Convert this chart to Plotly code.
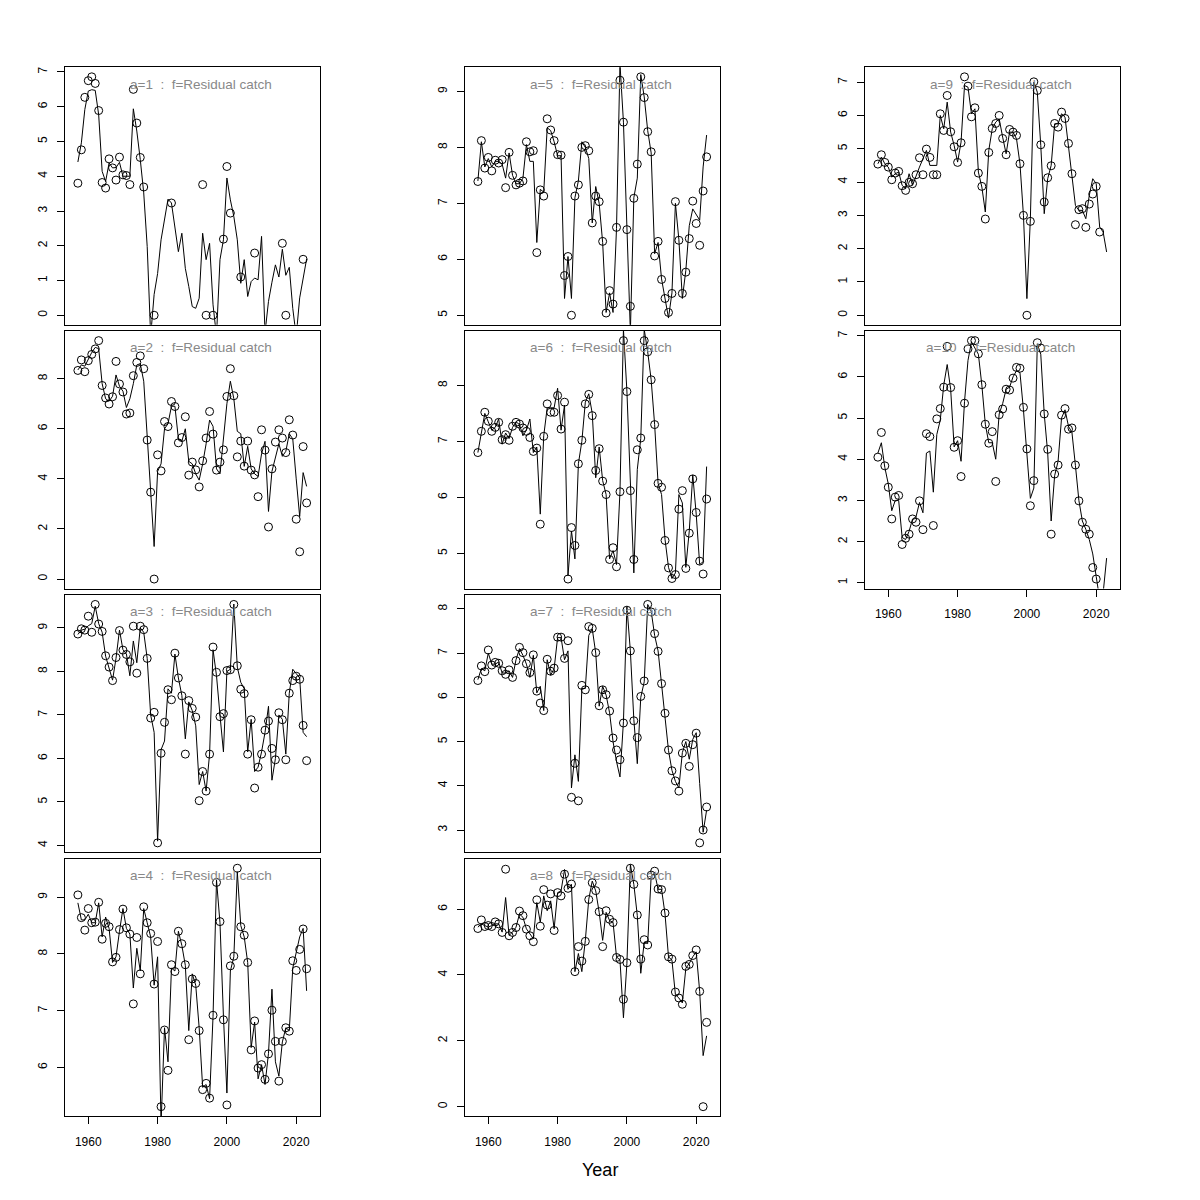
import plotly.graph_objects as go

years = list(range(1957, 2024))
N = None

obs_a1 = [3.80, 4.76, 6.27, 6.75, 6.86, 6.67, 5.89, 3.82, 3.66, 4.50,
          4.24, 3.89, 4.55, 4.04, 4.02, 3.76, 6.50, 5.53, 4.54, 3.69,
          N, N, 0.0, N, N, N, N, 3.23, N, N,
          N, N, N, N, N, N, 3.76, 0.0, N, 0.0,
          N, N, 2.19, 4.28, 2.94, N, N, 1.10, N, N,
          N, 1.79, N, N, N, N, N, N, N, 2.07,
          0.0, N, N, N, N, 1.61, N]
fit_a1 = [4.41, 4.96, 5.92, 6.45, 6.49, 6.47, 5.77, 4.14, 3.85, 4.38,
          4.24, 4.25, 4.40, 4.00, 4.00, 4.00, 5.94, 5.30, 4.48, 3.52,
          1.98, -0.60, 0.60, 1.20, 2.17, 2.75, 3.34, 3.23, 2.55, 1.83,
          2.36, 1.35, 0.83, 0.25, 0.20, 0.49, 2.36, 1.60, 2.07, 0.30,
          -0.60, 1.60, 2.17, 3.95, 3.32, 2.84, 2.17, 0.92, 1.60, 0.54,
          0.97, 1.07, 1.02, 2.27, -0.50, 0.40, 0.95, 1.45, 1.10, 1.90,
          1.15, 1.38, 0.20, -0.60, 0.50, 1.10, 1.62]

obs_a2 = [8.33, 8.75, 8.28, 8.72, 8.97, 9.19, 9.52, 7.73, 7.23, 6.99,
          7.28, 8.69, 7.79, 7.47, 6.59, 6.63, 8.12, 8.65, 8.91, 8.40,
          5.55, 3.47, 0.00, 4.96, 4.32, 6.29, 6.09, 7.09, 6.89, 5.44,
          5.65, 6.48, 4.15, 4.67, 4.36, 3.68, 4.72, 5.63, 6.69, 5.79,
          4.35, 4.67, 5.16, 7.29, 8.40, 7.32, 4.88, 5.51, 4.51, 5.51,
          4.35, 4.16, 3.29, 5.96, 5.15, 2.08, 4.40, 5.47, 5.96, 5.63,
          5.05, 6.36, 5.75, 2.39, 1.09, 5.29, 3.04]
fit_a2 = [8.35, 8.55, 8.50, 8.80, 9.05, 9.25, 9.20, 7.80, 7.20, 7.10,
          7.30, 8.15, 7.70, 7.50, 6.85, 7.20, 7.80, 8.55, 8.60, 7.90,
          5.60, 3.50, 1.30, 4.30, 4.60, 6.00, 6.20, 6.90, 6.90, 5.60,
          5.50, 6.00, 4.70, 4.60, 4.20, 3.95, 4.60, 5.40, 6.35, 6.10,
          4.40, 4.20, 5.70, 7.00, 7.90, 7.20, 5.90, 5.80, 4.50, 5.30,
          4.40, 4.20, 4.10, 5.00, 5.50, 2.70, 4.30, 4.90, 5.40, 4.90,
          5.10, 5.80, 5.60, 4.00, 2.50, 4.25, 3.70]

obs_a3 = [8.86, 8.98, 8.95, 9.27, 8.90, 9.54, 9.09, 8.92, 8.36, 8.10,
          7.79, 8.32, 8.94, 8.49, 8.39, 8.22, 9.04, 7.96, 9.04, 8.96,
          8.30, 6.93, 7.06, 4.06, 6.12, 6.83, 7.58, 7.35, 8.42, 7.85,
          7.44, 6.10, 7.33, 7.15, 6.95, 5.03, 5.70, 5.25, 6.10, 8.56,
          7.98, 6.96, 7.03, 8.02, 8.04, 9.54, 8.13, 7.59, 7.49, 6.10,
          6.89, 5.32, 5.80, 6.10, 6.65, 6.86, 6.23, 5.97, 7.05, 6.89,
          5.97, 7.50, 7.79, 7.89, 7.82, 6.76, 5.95]
fit_a3 = [8.85, 8.95, 8.97, 9.05, 9.10, 9.50, 9.10, 8.90, 8.35, 8.10,
          7.80, 8.30, 8.95, 8.50, 8.40, 7.90, 8.70, 8.20, 9.00, 8.90,
          8.30, 7.00, 6.60, 4.10, 6.20, 6.40, 7.60, 7.50, 8.40, 7.85,
          7.45, 6.45, 7.30, 7.10, 6.75, 5.40, 5.70, 5.25, 6.10, 8.50,
          7.90, 7.00, 6.15, 8.00, 8.05, 9.55, 8.10, 7.75, 7.60, 6.15,
          6.90, 5.70, 5.80, 6.15, 6.60, 7.20, 5.50, 6.00, 7.00, 6.90,
          6.10, 7.50, 8.05, 7.95, 7.85, 6.60, 6.50]

obs_a4 = [9.04, 8.64, 8.42, 8.80, 8.55, 8.56, 8.91, 8.26, 8.54, 8.48,
          7.86, 7.94, 8.43, 8.79, 8.46, 8.35, 7.12, 8.29, 7.65, 8.83,
          8.55, 8.36, 7.47, 8.22, 5.31, 6.66, 5.95, 7.81, 7.69, 8.40,
          8.18, 7.81, 6.49, 7.56, 7.48, 6.65, 5.61, 5.72, 5.46, 6.92,
          9.26, 8.57, 6.84, 5.34, 7.79, 7.96, 9.51, 8.48, 8.33, 7.85,
          6.31, 6.82, 5.99, 6.05, 5.79, 6.24, 7.01, 6.46, 5.76, 6.46,
          6.70, 6.64, 7.88, 7.71, 8.08, 8.44, 7.74]
fit_a4 = [8.90, 8.60, 8.60, 8.70, 8.55, 8.55, 8.90, 8.30, 8.65, 8.45,
          7.85, 7.95, 8.40, 8.80, 8.45, 8.35, 7.40, 8.10, 7.70, 8.80,
          8.55, 8.30, 7.45, 7.95, 5.00, 6.70, 6.10, 7.75, 7.70, 8.40,
          8.15, 7.80, 6.65, 7.65, 7.45, 6.70, 5.65, 5.70, 5.45, 6.90,
          9.30, 8.55, 6.90, 5.55, 7.70, 7.95, 9.45, 8.50, 8.30, 7.85,
          6.35, 6.80, 5.80, 6.05, 5.70, 6.25, 7.38, 6.10, 5.85, 6.45,
          6.70, 6.65, 7.75, 8.05, 8.30, 8.45, 7.35]

obs_a5 = [7.39, 8.12, 7.63, 7.82, 7.58, 7.77, 7.72, 7.78, 7.28, 7.91,
          7.50, 7.33, 7.36, 7.40, 8.10, 7.92, 7.94, 6.12, 7.24, 7.13,
          8.51, 8.31, 8.12, 7.87, 7.86, 5.71, 6.05, 5.00, 7.13, 7.33,
          8.00, 8.03, 7.94, 6.65, 7.13, 7.03, 6.32, 5.04, 5.44, 5.20,
          6.57, 9.20, 8.45, 6.53, 5.16, 7.09, 7.70, 9.26, 8.89, 8.28,
          7.92, 6.06, 6.32, 5.64, 5.30, 5.05, 5.39, 7.03, 6.34, 5.39,
          5.77, 6.37, 7.04, 6.64, 6.25, 7.22, 7.83]
fit_a5 = [7.40, 8.10, 7.65, 7.80, 7.65, 7.75, 7.75, 7.70, 7.45, 7.90,
          7.50, 7.35, 7.35, 7.45, 8.05, 7.75, 7.75, 6.30, 7.25, 7.20,
          8.35, 8.30, 8.10, 7.85, 7.85, 5.30, 6.05, 5.30, 7.10, 7.40,
          8.10, 8.00, 7.80, 6.65, 7.30, 7.00, 6.30, 5.05, 5.40, 5.05,
          6.55, 9.50, 8.45, 6.55, 4.70, 7.10, 7.45, 9.30, 8.90, 8.30,
          7.90, 6.10, 6.30, 5.65, 5.30, 4.95, 5.40, 7.00, 6.35, 5.30,
          5.80, 6.60, 6.90, 6.80, 6.70, 7.65, 8.22]

obs_a6 = [6.80, 7.18, 7.52, 7.36, 7.18, 7.25, 7.34, 7.03, 7.12, 7.02,
          7.27, 7.34, 7.31, 7.24, 7.18, 7.07, 6.82, 6.88, 5.52, 7.09,
          7.67, 7.52, 7.52, 7.82, 7.22, 7.70, 4.54, 5.46, 5.14, 6.60,
          7.02, 7.67, 7.84, 7.46, 6.48, 6.87, 6.29, 6.05, 4.89, 5.10,
          4.76, 6.10, 8.80, 7.89, 6.12, 4.89, 6.85, 7.06, 8.80, 8.60,
          8.10, 7.30, 6.25, 6.18, 5.23, 4.74, 4.55, 4.62, 5.79, 6.12,
          4.73, 5.36, 6.33, 5.73, 4.86, 4.63, 5.97]
fit_a6 = [6.80, 7.15, 7.50, 7.35, 7.20, 7.25, 7.40, 6.95, 7.15, 7.05,
          7.25, 7.35, 7.30, 7.10, 7.20, 7.40, 6.80, 6.90, 5.70, 7.10,
          7.60, 7.60, 7.60, 7.95, 7.20, 7.65, 4.60, 5.40, 4.90, 6.60,
          7.00, 7.70, 7.85, 7.50, 6.35, 6.90, 6.30, 6.05, 4.90, 5.05,
          4.80, 6.10, 9.00, 7.90, 6.10, 4.65, 6.50, 7.05, 9.00, 8.60,
          8.10, 7.30, 6.25, 6.05, 5.25, 4.75, 4.55, 4.65, 6.05, 5.90,
          4.75, 5.40, 6.40, 5.70, 4.80, 4.85, 6.55]

obs_a7 = [6.38, 6.71, 6.58, 7.07, 6.73, 6.79, 6.77, 6.60, 6.52, 6.62,
          6.45, 6.83, 7.13, 7.01, 6.76, 6.56, 6.96, 6.14, 5.87, 5.70,
          6.86, 6.59, 6.66, 7.36, 7.36, 6.88, 7.28, 3.74, 4.51, 3.66,
          6.27, 6.17, 7.60, 7.56, 7.01, 5.81, 6.17, 6.06, 5.69, 5.08,
          4.81, 4.59, 5.42, 7.97, 7.05, 5.47, 5.09, 6.02, 6.37, 8.10,
          7.93, 7.44, 7.04, 6.31, 5.64, 4.81, 4.34, 4.11, 3.88, 4.74,
          4.96, 4.44, 4.93, 5.19, 2.71, 3.00, 3.52]
fit_a7 = [6.40, 6.65, 6.60, 7.00, 6.75, 6.75, 6.80, 6.55, 6.55, 6.60,
          6.45, 6.85, 7.10, 6.95, 6.75, 6.45, 6.95, 6.10, 6.25, 5.70,
          6.85, 6.50, 6.65, 7.35, 7.35, 6.85, 7.05, 3.95, 4.70, 4.10,
          6.20, 6.20, 7.40, 7.55, 7.00, 5.80, 6.25, 6.05, 5.65, 5.00,
          4.55, 4.20, 5.45, 8.05, 7.05, 5.50, 4.50, 6.00, 6.35, 8.10,
          7.95, 7.40, 7.05, 6.30, 5.60, 4.80, 4.35, 4.10, 3.95, 4.75,
          5.00, 4.60, 5.05, 5.20, 4.05, 2.95, 3.45]

obs_a8 = [5.41, 5.67, 5.47, 5.50, 5.47, 5.61, 5.55, 5.29, 7.21, 5.19,
          5.29, 5.44, 5.94, 5.80, 5.39, 5.19, 5.01, 6.28, 5.48, 6.59,
          6.12, 6.46, 5.35, 6.50, 6.40, 7.06, 6.63, 6.76, 4.10, 4.86,
          4.42, 5.02, 6.29, 6.80, 6.56, 5.92, 4.86, 5.95, 5.69, 5.59,
          4.53, 4.47, 3.26, 4.37, 7.24, 6.75, 5.82, 4.48, 5.07, 4.91,
          7.03, 7.15, 6.61, 6.59, 5.88, 4.55, 4.48, 3.48, 3.30, 3.11,
          4.26, 4.32, 4.59, 4.76, 3.50, 0.00, 2.56]
fit_a8 = [5.45, 5.55, 5.50, 5.45, 5.50, 5.55, 5.55, 5.30, 6.35, 5.20,
          5.30, 5.45, 5.85, 5.75, 5.40, 5.25, 5.10, 6.20, 5.60, 6.40,
          5.95, 6.25, 5.40, 6.50, 6.55, 7.20, 6.60, 6.75, 4.10, 4.65,
          4.10, 5.05, 6.30, 6.85, 6.55, 5.90, 5.05, 5.90, 5.65, 5.60,
          4.55, 4.45, 2.70, 4.35, 7.35, 6.75, 5.80, 4.05, 5.00, 4.95,
          7.00, 7.10, 6.60, 6.60, 5.85, 4.55, 4.45, 3.40, 3.30, 3.15,
          4.20, 4.35, 4.55, 4.70, 3.50, 1.55, 2.15]

obs_a9 = [4.54, 4.82, 4.59, 4.45, 4.07, 4.27, 4.32, 3.89, 3.75, 3.99,
          3.95, 4.22, 4.73, 4.22, 4.99, 4.74, 4.22, 4.22, 6.05, 5.55,
          6.60, 5.51, 5.06, 4.59, 5.18, 7.16, 6.88, 5.96, 6.23, 4.27,
          3.87, 2.89, 4.89, 5.61, 5.76, 6.00, 5.31, 4.82, 5.58, 5.50,
          5.40, 4.55, 3.00, 0.00, 2.82, 7.01, 6.75, 5.12, 3.40, 4.13,
          4.49, 5.76, 5.65, 6.10, 5.91, 5.16, 4.25, 2.72, 3.17, 3.20,
          2.64, 3.34, 3.64, 3.87, 2.50, N, N]
fit_a9 = [4.55, 4.75, 4.55, 4.45, 4.15, 4.25, 4.30, 3.90, 3.80, 4.25,
          3.90, 4.20, 4.45, 4.70, 4.95, 4.50, 4.50, 4.50, 6.00, 5.60,
          6.40, 5.50, 5.10, 4.60, 5.20, 6.90, 6.85, 6.05, 6.20, 4.30,
          3.85, 3.10, 4.95, 5.60, 5.80, 5.90, 5.35, 4.85, 5.50, 5.50,
          5.30, 4.55, 3.00, 0.50, 2.90, 7.00, 6.70, 5.10, 3.05, 4.10,
          4.50, 5.75, 5.75, 6.05, 5.95, 5.10, 4.25, 3.30, 3.15, 3.15,
          2.90, 3.60, 4.10, 3.95, 2.65, 2.50, 1.90]

obs_a10 = [4.05, 4.65, 3.84, 3.32, 2.55, 3.08, 3.12, 1.93, 2.08, 2.18,
           2.55, 2.47, 2.99, 2.29, 4.62, 4.55, 2.39, 4.98, 5.23, 5.75,
           6.74, 5.74, 4.29, 4.45, 3.58, 5.36, 6.68, 6.88, 6.88, 6.56,
           5.81, 4.85, 4.39, 4.67, 3.46, 5.08, 5.22, 5.70, 5.68, 5.97,
           6.23, 6.21, 5.26, 4.25, 2.87, 3.48, 6.83, 6.70, 5.10, 4.24,
           2.18, 3.64, 3.86, 5.07, 5.23, 4.73, 4.76, 3.86, 2.99, 2.47,
           2.30, 2.18, 1.37, 1.09, N, N, N]
fit_a10 = [4.15, 4.40, 3.80, 3.40, 2.75, 3.00, 3.00, 2.10, 2.05, 2.25,
           2.55, 2.60, 2.95, 2.70, 4.15, 4.20, 3.20, 4.60, 4.95, 5.80,
           6.30, 5.70, 4.30, 4.45, 3.95, 5.40, 6.40, 6.85, 6.70, 6.55,
           5.80, 4.85, 4.40, 4.40, 4.00, 5.10, 5.35, 5.70, 5.75, 6.00,
           6.15, 6.10, 5.20, 4.20, 3.05, 3.30, 6.80, 6.55, 5.10, 4.15,
           2.50, 3.60, 3.95, 5.00, 5.20, 4.80, 4.65, 3.85, 3.00, 2.50,
           2.30, 2.05, 1.70, 1.15, 0.60, 0.75, 1.60]

labels = ["a=1", "a=2", "a=3", "a=4", "a=5", "a=6", "a=7", "a=8", "a=9", "a=10"]
obs_all = [obs_a1, obs_a2, obs_a3, obs_a4, obs_a5, obs_a6, obs_a7, obs_a8, obs_a9, obs_a10]
fit_all = [fit_a1, fit_a2, fit_a3, fit_a4, fit_a5, fit_a6, fit_a7, fit_a8, fit_a9, fit_a10]
yticks_all = [[0, 1, 2, 3, 4, 5, 6, 7], [0, 2, 4, 6, 8], [4, 5, 6, 7, 8, 9], [6, 7, 8, 9],
              [5, 6, 7, 8, 9], [5, 6, 7, 8], [3, 4, 5, 6, 7, 8], [0, 2, 4, 6],
              [0, 1, 2, 3, 4, 5, 6, 7], [1, 2, 3, 4, 5, 6, 7]]
xticks = [1960, 1980, 2000, 2020]
title_suffix = "f=Residual catch"
xlabel = "Year"

# panel grid positions (column, row) -- column-wise fill
grid = [(0, 0), (0, 1), (0, 2), (0, 3), (1, 0), (1, 1), (1, 2), (1, 3), (2, 0), (2, 1)]
bottom_panel = [False, False, False, True, False, False, False, True, False, True]

W = H = 1200
OFF = 8  # page body margin offset
FONT = "Liberation Sans, Arial, Helvetica, sans-serif"

fig = go.Figure()
layout = dict(width=W, height=H, margin=dict(l=0, r=0, t=0, b=0),
              paper_bgcolor="white", plot_bgcolor="white", showlegend=False,
              font=dict(family=FONT, color="black", size=11))
annotations = []

xlo, xhi = years[0] - 1, years[-1] + 1
xpad = 0.04 * (xhi - xlo)
xrange = [xlo - xpad, xhi + xpad]

for i in range(10):
    k = i + 1
    xa = "x" if k == 1 else f"x{k}"
    ya = "y" if k == 1 else f"y{k}"
    col, row = grid[i]
    left = 65 + 400 * col - OFF
    right = left + 254.5
    top = 67.3 + 263.8 * row - OFF
    bot = top + 257.5
    fig.add_trace(go.Scatter(x=years, y=fit_all[i], mode="lines",
                             line=dict(color="black", width=1),
                             xaxis=xa, yaxis=ya, hoverinfo="skip"))
    fig.add_trace(go.Scatter(x=years, y=obs_all[i], mode="markers",
                             marker=dict(symbol="circle-open", size=8, color="black",
                                         line=dict(width=1, color="black")),
                             xaxis=xa, yaxis=ya))
    vals = [v for v in obs_all[i] if v is not None]
    lo, hi = min(vals), max(vals)
    pad = 0.04 * (hi - lo)
    xkey = "xaxis" if k == 1 else f"xaxis{k}"
    ykey = "yaxis" if k == 1 else f"yaxis{k}"
    layout[xkey] = dict(domain=[left / W, right / W], range=xrange, anchor=ya,
                        showline=True, mirror=True, linecolor="black", linewidth=1,
                        showgrid=False, zeroline=False,
                        tickvals=xticks, ticks="outside" if bottom_panel[i] else "",
                        ticklen=7, tickcolor="black",
                        showticklabels=bottom_panel[i], ticklabelstandoff=7,
                        tickfont=dict(size=12, family=FONT, color="black"))
    layout[ykey] = dict(domain=[1 - bot / H, 1 - top / H], range=[lo - pad, hi + pad],
                        anchor=xa, showline=True, mirror=True, linecolor="black",
                        linewidth=1, showgrid=False, zeroline=False,
                        tickvals=yticks_all[i], ticks="outside", ticklen=7,
                        tickcolor="black", tickangle=-90, ticklabelstandoff=5,
                        tickfont=dict(size=12, family=FONT, color="black"))
    annotations.append(dict(text=f"{labels[i]} \u00a0:\u00a0 {title_suffix}",
                            xref=f"{xa} domain", yref=f"{ya} domain",
                            x=0.533, y=1 - 16.7 / 257.5, xanchor="center", yanchor="middle",
                            showarrow=False, font=dict(size=13.5, family=FONT, color="#888888")))

annotations.append(dict(text=xlabel, xref="paper", yref="paper", x=(600 - OFF) / W,
                        y=1 - (1170 - OFF) / H,
                        xanchor="center", yanchor="middle", showarrow=False,
                        font=dict(size=18, family=FONT, color="black")))
layout["annotations"] = annotations
fig.update_layout(**layout)
fig.write_html("out.html")
